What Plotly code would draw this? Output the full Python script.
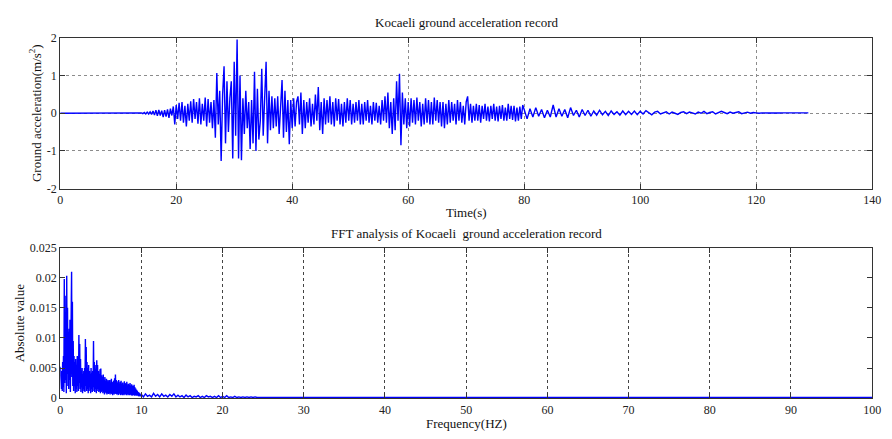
import numpy as np
import plotly.graph_objects as go

# ---------------- Data: Kocaeli ground acceleration (m/s^2) ----------------
lead_start, lead_step = 0.0, 0.5
lead_acc = [0, 0, 0, 0, 0, 0, 0, 0,
            0.008, -0.006, 0.008, -0.006, 0.008, -0.006, 0.008, -0.006, 0.008, -0.006, 0.008,
            0, 0, 0, 0, 0, 0, 0, 0, 0]

main_start, main_step = 14.0, 0.25
main_acc = [
    0.01, -0.01, 0.02, -0.02,      # 14
    0.03, -0.02, 0.04, -0.03,      # 15
    0.06, -0.05, 0.08, -0.07,      # 16
    0.09, -0.06, 0.07, -0.1,       # 17
    0.08, -0.09, 0.1, -0.12,       # 18
    0.12, -0.06, 0.18, -0.3,       # 19
    0.22, -0.15, 0.28, -0.2,       # 20
    0.3, -0.25, 0.2, -0.35,        # 21
    0.25, -0.2, 0.32, -0.25,       # 22
    0.38, -0.15, 0.3, -0.28,       # 23
    0.4, -0.3, 0.25, -0.2,         # 24
    0.42, -0.35, 0.38, -0.25,      # 25
    0.3, -0.4, 0.35, -0.65,        # 26
    1.07, -0.3, 0.6, -1.27,        # 27
    0.5, 1.25, -0.8, 0.85,         # 28
    -0.5, 0.4, 0.85, -1.2,         # 29
    1.37, -0.6, 1.96, -1.2,        # 30
    1.0, -1.25, 0.4, -0.55,        # 31
    0.6, -0.4, 0.3, -0.95,         # 32
    0.35, -0.8, 1.1, -1.0,         # 33
    0.65, -0.7, -0.2, 1.18,        # 34
    -0.6, 0.4, 1.37, -0.8,         # 35
    0.6, -0.45, 0.45, -0.4,        # 36
    0.4, -0.35, 0.45, -0.55,       # 37
    0.3, 0.88, -0.65, 0.6,         # 38
    -0.5, 0.35, -0.82, 0.35,       # 39
    -0.4, 0.4, -0.35, 0.3,         # 40
    0.45, -0.3, 0.55, -0.55,       # 41
    0.35, -0.4, 0.3, -0.25,        # 42
    0.4, -0.35, 0.25, -0.3,        # 43
    0.5, -0.2, 0.7, -0.45,         # 44
    0.3, -0.55, 0.4, -0.3,         # 45
    0.35, -0.25, 0.45, -0.3,       # 46
    0.3, -0.35, 0.4, -0.2,         # 47
    0.38, -0.3, 0.25, -0.35,       # 48
    0.3, -0.25, 0.4, -0.2,         # 49
    0.35, -0.3, 0.25, -0.25,       # 50
    0.3, -0.2, 0.35, -0.3,         # 51
    0.25, -0.3, 0.3, -0.2,         # 52
    0.35, -0.25, 0.2, -0.3,        # 53
    0.3, -0.2, 0.28, -0.25,        # 54
    0.2, -0.3, 0.35, -0.2,         # 55
    0.45, -0.25, 0.55, -0.4,       # 56
    0.3, -0.55, 0.4, -0.45,        # 57
    0.85, -0.2, 1.05, -0.85,       # 58
    0.55, -0.3, 0.4, -0.4,         # 59
    0.3, -0.35, 0.4, -0.25,        # 60
    0.35, -0.3, 0.42, -0.2,        # 61
    0.3, -0.35, 0.25, -0.3,        # 62
    0.4, -0.25, 0.35, -0.3,        # 63
    0.3, -0.3, 0.42, -0.2,         # 64
    0.35, -0.25, 0.3, -0.35,       # 65
    0.3, -0.4, 0.25, -0.3,         # 66
    0.35, -0.25, 0.3, -0.2,        # 67
    0.25, -0.3, 0.35, -0.2,        # 68
    0.3, -0.25, 0.2, -0.3,         # 69
    0.3, 0.45, -0.2, 0.25,         # 70
    -0.25, 0.2, -0.2, 0.25,        # 71
    -0.2, 0.22, -0.25, 0.2,        # 72
    -0.15, 0.25, -0.2, 0.18,       # 73
    -0.22, 0.2, -0.15, 0.25,       # 74
    -0.2, 0.18, -0.22, 0.2,        # 75
    -0.15, 0.22, -0.2, 0.15,       # 76
    -0.2, 0.25, -0.15, 0.2,        # 77
    -0.18, 0.2, -0.22, 0.15,       # 78
    -0.2, 0.18, -0.15, 0.22,       # 79
]

tail_start, tail_step = 80.0, 0.5
tail_acc = [
    0.1, -0.15, 0.12, -0.1, 0.15, -0.08, 0.1, -0.12, 0.08, -0.1,      # 80-84
    0.22, -0.1, 0.12, -0.08, 0.1, -0.12, 0.15, -0.06, 0.08, -0.1,     # 85-89
    0.1, -0.06, 0.08, -0.08, 0.06, -0.05, 0.08, -0.04, 0.05, -0.06,   # 90-94
    0.06, -0.03, 0.04, -0.05, 0.06, -0.04, 0.05, -0.03, 0.06, -0.04,  # 95-99
    0.05, -0.02, 0.07, 0.01, -0.04, 0.03, 0.05, -0.02, 0.0, 0.04,     # 100-104
    -0.02, 0.03, 0.0, -0.03, 0.02, 0.04, -0.01, 0.03, 0.01, -0.02,    # 105-109
    0.03, 0.0, 0.05, -0.01, 0.02, 0.04, -0.02, 0.01, 0.05, 0.02,      # 110-114
    -0.01, 0.03, 0.0, 0.02, 0.04, -0.01, 0.02, 0.03, 0.0, 0.02,       # 115-119
    0.01, 0.0, 0.01, 0.0, 0.005, 0.01, 0.005, 0.01, 0.005, 0.01,      # 120-124
    0.01, 0.005, 0.01, 0.01, 0.01, 0.01, 0.01, 0.01, 0.01,            # 125-129
]

# ---------------- Data: FFT magnitude ----------------
fft_lo_start, fft_lo_step = 0.0, 0.05
fft_lo = [
    0.0052, 0.0020, 0.0030, 0.0015, 0.0045, 0.0012, 0.0060, 0.0018, 0.0070, 0.0010,
    0.0198, 0.0025, 0.0170, 0.0030, 0.0120, 0.0008, 0.0203, 0.0040, 0.0150, 0.0020,
    0.0110, 0.0015, 0.0115, 0.0030, 0.0130, 0.0010, 0.0090, 0.0025, 0.0210, 0.0035,
    0.0160, 0.0020, 0.0095, 0.0012, 0.0070, 0.0020, 0.0060, 0.0008, 0.0065, 0.0015,
    0.0055, 0.0010, 0.0070, 0.0020, 0.0060, 0.0012, 0.0105, 0.0025, 0.0090, 0.0015,
    0.0065, 0.0010, 0.0045, 0.0018, 0.0050, 0.0008, 0.0040, 0.0015, 0.0045, 0.0012,
    0.0050, 0.0010, 0.0098, 0.0020, 0.0085, 0.0012, 0.0060, 0.0015, 0.0050, 0.0008,
    0.0055, 0.0012, 0.0045, 0.0020, 0.0040, 0.0008, 0.0050, 0.0015, 0.0042, 0.0010,
    0.0045, 0.0012, 0.0095, 0.0018, 0.0060, 0.0010, 0.0055, 0.0015, 0.0048, 0.0008,
    0.0063, 0.0012, 0.0055, 0.0015, 0.0045, 0.0010, 0.0040, 0.0012, 0.0048, 0.0008,
    0.0049, 0.0010, 0.0038, 0.0012, 0.0035, 0.0008, 0.0039, 0.0010, 0.0030, 0.0006,
    0.0035, 0.0010, 0.0028, 0.0008, 0.0032, 0.0006, 0.0026, 0.0009, 0.0030, 0.0007,
    0.0028, 0.0008, 0.0030, 0.0006, 0.0025, 0.0009, 0.0032, 0.0007, 0.0027, 0.0005,
    0.0025, 0.0008, 0.0029, 0.0006, 0.0033, 0.0008, 0.0039, 0.0007, 0.0030, 0.0006,
    0.0028, 0.0007, 0.0025, 0.0005, 0.0030, 0.0008, 0.0024, 0.0006, 0.0027, 0.0005,
    0.0029, 0.0007, 0.0024, 0.0005, 0.0026, 0.0006, 0.0022, 0.0005, 0.0028, 0.0006,
    0.0025, 0.0006, 0.0023, 0.0005, 0.0027, 0.0007, 0.0021, 0.0005, 0.0024, 0.0006,
    0.0022, 0.0005, 0.0025, 0.0006, 0.0020, 0.0005, 0.0023, 0.0004, 0.0021, 0.0005,
    0.0020, 0.0005, 0.0022, 0.0004, 0.0018, 0.0005, 0.0016, 0.0004, 0.0014, 0.0004,
    0.0012, 0.0004, 0.0010, 0.0003, 0.0009, 0.0004, 0.0008, 0.0003, 0.0006, 0.0004,
]

fft_mid_start, fft_mid_step = 10.0, 0.25
fft_mid = [
    0.0006, 0.0002, 0.0007, 0.0003, 0.0005, 0.0002, 0.0008, 0.0003, 0.0006, 0.0002,
    0.0007, 0.0003, 0.0005, 0.0002, 0.0006, 0.0003, 0.0007, 0.0002, 0.0005, 0.0002,
    0.0004, 0.0001, 0.0005, 0.0002, 0.0004, 0.0001, 0.0003, 0.0002, 0.0004, 0.0001,
    0.0003, 0.0001, 0.0004, 0.0002, 0.0003, 0.0001, 0.0003, 0.0001, 0.0004, 0.0001,
    0.0003, 0.0001, 0.0004, 0.0001, 0.0002, 0.0001, 0.0003, 0.0001, 0.0002, 0.0001,
    0.0002, 0.0001, 0.0002, 0.0001, 0.0002, 0.0001, 0.0002, 0.0001, 0.0001, 0.0001,
]

fft_hi_start, fft_hi_step = 25.0, 2.5
fft_hi = [0.0001, 0.00005] * 15 + [0.0001]

top_xticks = [0, 20, 40, 60, 80, 100, 120, 140]
top_yticks = [-2, -1, 0, 1, 2]
top_ylabels = ["-2", "-1", "0", "1", "2"]
bot_xticks = [0, 10, 20, 30, 40, 50, 60, 70, 80, 90, 100]
bot_yticks = [0, 0.005, 0.01, 0.015, 0.02, 0.025]
bot_ylabels = ["0", "0.005", "0.01", "0.015", "0.02", "0.025"]


def seg(start, step, vals):
    return start + step * np.arange(len(vals))


t = np.concatenate([seg(lead_start, lead_step, lead_acc),
                    seg(main_start, main_step, main_acc),
                    seg(tail_start, tail_step, tail_acc)])
acc = np.concatenate([lead_acc, main_acc, tail_acc])

f = np.concatenate([seg(fft_lo_start, fft_lo_step, fft_lo),
                    seg(fft_mid_start, fft_mid_step, fft_mid),
                    seg(fft_hi_start, fft_hi_step, fft_hi)])
amp = np.concatenate([fft_lo, fft_mid, fft_hi])

# ---------------- Figure ----------------
W, H = 892, 439
FONT = "Liberation Serif, Times New Roman, serif"
BLUE = "#0000ff"
AX = "#333333"

fig = go.Figure()
fig.add_trace(go.Scatter(x=t, y=acc, mode="lines",
                         line=dict(color=BLUE, width=1.4),
                         xaxis="x", yaxis="y", showlegend=False))
fig.add_trace(go.Scatter(x=f, y=amp, mode="lines",
                         line=dict(color=BLUE, width=1.4),
                         xaxis="x2", yaxis="y2", showlegend=False))

x0, x1 = 58 / W, 881 / W
top_dom = [(H - 187.5) / H, (H - 32) / H]
bot_dom = [(H - 404) / H, (H - 248.5) / H]

common_axis = dict(showline=True, linecolor=AX, linewidth=1, mirror="ticks",
                   ticks="inside", ticklen=5, tickcolor=AX, zeroline=False,
                   tickfont=dict(family=FONT, size=12, color="#222222"))

fig.update_layout(
    width=W, height=H,
    margin=dict(l=0, r=0, t=0, b=0),
    paper_bgcolor="white", plot_bgcolor="white",
    xaxis=dict(domain=[x0, x1], range=[0, 140], tickvals=top_xticks,
               showgrid=True, gridcolor="#8c8c8c", griddash="dot", gridwidth=1,
               anchor="y", **common_axis),
    yaxis=dict(domain=top_dom, range=[-2, 2], tickvals=top_yticks, ticktext=top_ylabels,
               showgrid=True, gridcolor="#8c8c8c", griddash="dot", gridwidth=1,
               anchor="x", **common_axis),
    xaxis2=dict(domain=[x0, x1], range=[0, 100], tickvals=bot_xticks,
                showgrid=True, gridcolor="#444444", griddash="dot", gridwidth=1,
                anchor="y2", **common_axis),
    yaxis2=dict(domain=bot_dom, range=[0, 0.025], tickvals=bot_yticks,
                ticktext=bot_ylabels,
                showgrid=False, anchor="x2", **common_axis),
)

tfont = dict(family=FONT, size=13, color="#111111")
cx = (58 + 881) / 2 / W
annos = [
    dict(text="Kocaeli ground acceleration record", x=cx, y=(H - 16) / H),
    dict(text="Time(s)", x=cx, y=(H - 212) / H),
    dict(text="FFT analysis of Kocaeli\u00a0\u00a0ground acceleration record", x=cx, y=(H - 234) / H),
    dict(text="Frequency(HZ)", x=cx, y=(H - 430) / H),
    dict(text="Ground acceleration(m/s<sup>2</sup>)", x=33 / W, y=(H - 110) / H, textangle=-90),
    dict(text="Absolute value", x=17 / W, y=(H - 326) / H, textangle=-90),
]
for a in annos:
    fig.add_annotation(xref="paper", yref="paper", showarrow=False,
                       xanchor="center", yanchor="middle", font=tfont, **a)

fig.write_html("out.html")
